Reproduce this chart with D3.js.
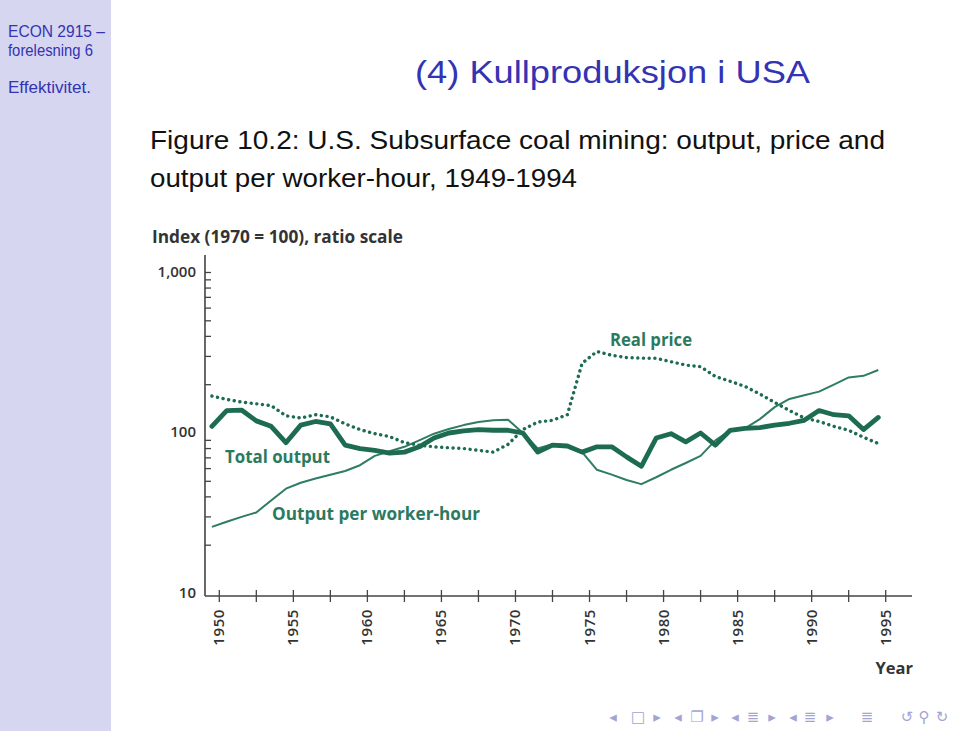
<!DOCTYPE html>
<html>
<head>
<meta charset="utf-8">
<script src="https://cdn.jsdelivr.net/npm/d3@7/dist/d3.min.js"></script>
<style>
  html, body { margin: 0; padding: 0; background: #ffffff; }
  svg { display: block; }
</style>
</head>
<body>
<svg id="slide" width="960" height="731"></svg>
<script>
// ---------- data ----------
const years = d3.range(1949, 1995); // 1949..1994
const totalOutput = [110,138,139,119,110,87,112,118,114,84,80,78,75,76,82,93,100,103,105,104,104,100,
  76,84,83,76,82,82,71,62,93,99,88,100,84,104,107,108,112,115,120,138,130,128,105,125];
const outputPerHour = [26,28,30,32,38,45,49,52,55,58,63,72,77,82,90,99,106,112,117,120,121,100,
  80,85,84,76,59,55,51,48,53,59,65,72,90,104,107,122,145,163,172,181,200,222,227,247];
const realPrice = [170,162,156,152,148,128,124,130,126,114,105,99,95,87,84,82,81,80,78,76,85,105,
  117,120,130,272,322,305,295,293,292,278,265,259,225,210,195,175,155,138,124,118,110,104,94,86];
const xTickYears = d3.range(1950, 1996, 2.5);
const xLabelYears = d3.range(1950, 1996, 5);
const yLabelValues = [10, 100, 1000];
const yLabelText = ["10", "100", "1,000"];
const yMinorTicks = [20,30,40,50,60,70,80,90,200,300,400,500,600,700,800,900,1000];

// ---------- layout ----------
const svg = d3.select("#slide");
const blue = "#3333b3";
const green = "#1d6b52";
const greenThin = "#2e7d62";
const labelGreen = "#2b7a60";
const axisColor = "#444";
const chartFont = "'Open Sans', 'Noto Sans', sans-serif";
const slideFont = "'Liberation Sans', 'DejaVu Sans', sans-serif";

function fitText(sel, len) {
  sel.attr("textLength", len).attr("lengthAdjust", "spacingAndGlyphs");
  return sel;
}

// sidebar
svg.append("rect").attr("x", 0).attr("y", 0).attr("width", 111).attr("height", 731).attr("fill", "#d6d6f1");
const side = svg.append("g").attr("font-family", slideFont).attr("fill", blue).attr("font-size", 17);
fitText(side.append("text").attr("x", 8).attr("y", 37).text("ECON 2915 –"), 97);
fitText(side.append("text").attr("x", 8).attr("y", 56).text("forelesning 6"), 85);
fitText(side.append("text").attr("x", 8).attr("y", 93).text("Effektivitet."), 83);

// title
fitText(svg.append("text").attr("x", 415).attr("y", 83).attr("font-family", slideFont)
  .attr("font-size", 32).attr("fill", blue).text("(4) Kullproduksjon i USA"), 395);

// caption
const cap = svg.append("g").attr("font-family", slideFont).attr("font-size", 25.5).attr("fill", "#111");
fitText(cap.append("text").attr("x", 150).attr("y", 149).text("Figure 10.2:  U.S. Subsurface coal mining: output, price and"), 735);
fitText(cap.append("text").attr("x", 150).attr("y", 187).text("output per worker-hour, 1949-1994"), 427);

// ---------- chart ----------
const x = d3.scaleLinear().domain([1950, 1995]).range([219.3, 885.7]);
const y = d3.scaleLog().domain([10, 1000]).range([593.5, 272.5]);
const axisY = y(10) + 2.5;
const axisX = x(1949) + 0.5;
const px = d => x(d.year + 0.5);

const chart = svg.append("g");

// chart heading
fitText(chart.append("text").attr("x", 152).attr("y", 243).attr("font-family", chartFont)
  .attr("font-weight", 700).attr("font-size", 17.5).attr("fill", "#333")
  .text("Index (1970 = 100), ratio scale"), 251);

// y axis
chart.append("line").attr("x1", axisX).attr("x2", axisX).attr("y1", 255).attr("y2", axisY)
  .attr("stroke", axisColor).attr("stroke-width", 1.6);
chart.selectAll("line.ytick").data(yMinorTicks).enter().append("line")
  .attr("class", "ytick")
  .attr("x1", axisX).attr("x2", axisX + 6)
  .attr("y1", d => y(d)).attr("y2", d => y(d))
  .attr("stroke", axisColor).attr("stroke-width", 1.3);
chart.selectAll("text.ylab").data(yLabelValues).enter().append("text")
  .attr("class", "ylab")
  .attr("x", 196).attr("y", d => y(d) - 1).attr("dy", "0.35em")
  .attr("text-anchor", "end").attr("font-family", chartFont).attr("font-weight", 600)
  .attr("font-size", 15).attr("fill", "#333")
  .text((d, i) => yLabelText[i]);

// x axis
chart.append("line").attr("x1", axisX).attr("x2", 912).attr("y1", axisY).attr("y2", axisY)
  .attr("stroke", axisColor).attr("stroke-width", 1.6);
chart.selectAll("line.xtick").data(xTickYears).enter().append("line")
  .attr("class", "xtick")
  .attr("x1", d => x(d)).attr("x2", d => x(d))
  .attr("y1", axisY - 6).attr("y2", axisY + 6)
  .attr("stroke", axisColor).attr("stroke-width", 1.3);
chart.selectAll("text.xlab").data(xLabelYears).enter().append("text")
  .attr("class", "xlab")
  .attr("transform", d => `translate(${x(d) + 5},${axisY + 13}) rotate(-90)`)
  .attr("text-anchor", "end").attr("font-family", chartFont).attr("font-weight", 600)
  .attr("font-size", 15).attr("fill", "#333").attr("letter-spacing", 0.6)
  .text(d => d);
chart.append("text").attr("x", 913).attr("y", 674).attr("text-anchor", "end")
  .attr("font-family", chartFont).attr("font-weight", 700).attr("font-size", 16.5)
  .attr("fill", "#333").text("Year");

// series
const toPts = arr => years.map((yr, i) => ({ year: yr, v: arr[i] }));
const line = d3.line().x(px).y(d => y(d.v));

chart.append("path").datum(toPts(outputPerHour)).attr("d", line)
  .attr("fill", "none").attr("stroke", greenThin).attr("stroke-width", 2)
  .attr("stroke-linejoin", "round");
chart.append("path").datum(toPts(totalOutput)).attr("d", line)
  .attr("fill", "none").attr("stroke", green).attr("stroke-width", 4.8)
  .attr("stroke-linejoin", "round").attr("stroke-linecap", "round");
chart.append("path").datum(toPts(realPrice)).attr("d", line)
  .attr("fill", "none").attr("stroke", green).attr("stroke-width", 3.4)
  .attr("stroke-dasharray", "0.1,5.6").attr("stroke-linecap", "round");

// series labels
const lab = chart.append("g").attr("font-family", chartFont).attr("font-weight", 700)
  .attr("font-size", 17).attr("fill", labelGreen);
fitText(lab.append("text").attr("x", 225).attr("y", 463).text("Total output"), 105);
fitText(lab.append("text").attr("x", 272).attr("y", 520).text("Output per worker-hour"), 208);
fitText(lab.append("text").attr("x", 610).attr("y", 346).text("Real price"), 82);

// ---------- navigation symbols ----------
const navColor = "#a4a4d2";
const nav = svg.append("g").attr("fill", navColor).attr("font-family", "'DejaVu Sans', sans-serif")
  .attr("font-size", 15).attr("text-anchor", "middle");
const navItems = [
  [613, "◂"], [638, "□"], [657, "▸"], [678, "◂"], [697, "❐"], [715, "▸"],
  [735, "◂"], [753, "≣"], [772, "▸"], [793, "◂"], [810, "≣"], [830, "▸"],
  [867, "≣"], [907, "↺"], [924, "⚲"], [942, "↻"]
];
nav.selectAll("text").data(navItems).enter().append("text")
  .attr("x", d => d[0]).attr("y", 722).text(d => d[1]);
</script>
</body>
</html>
